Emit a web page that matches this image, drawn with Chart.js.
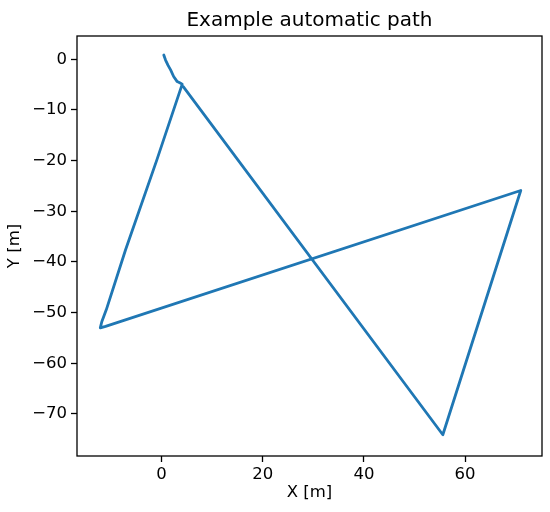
<!DOCTYPE html>
<html>
<head>
<meta charset="utf-8">
<script src="https://cdn.jsdelivr.net/npm/chart.js@4/dist/chart.umd.min.js"></script>
<style>
  html, body { margin: 0; padding: 0; background: #fff; }
  #wrap { width: 550px; height: 512px; }
</style>
</head>
<body>
<div id="wrap"><canvas id="path-chart" width="550" height="512"></canvas></div>
<script>
// --- path (metres) ---
const pathX = [0.45, 0.8, 1.3, 1.8, 2.4, 3.1, 3.7, 4.1,
               -0.9, -7.1, -10.9, -11.8, -12.1, -11.05,
               71.0, 55.6, 4.3];
const pathY = [0.85, -0.15, -1.2, -2.1, -3.4, -4.4, -4.7, -4.9,
               -19.8, -37.6, -49.4, -51.8, -53.0, -52.7,
               -25.9, -74.1, -5.4];

const xTicks = [0, 20, 40, 60];
const yTicks = [0, -10, -20, -30, -40, -50, -60, -70];

const titleText = 'Example automatic path';
const xLabel = 'X [m]';
const yLabel = 'Y [m]';

const FONT = 'DejaVu Sans';

const fmt = v => (v < 0 ? '\u2212' + Math.abs(v) : String(v));

// frame + title drawn over the chart area, matplotlib style
const framePlugin = {
    id: 'frame',
    afterDraw(chart) {
        const { ctx, chartArea: a } = chart;
        ctx.save();
        ctx.strokeStyle = '#000';
        ctx.lineWidth = 1.3;
        ctx.strokeRect(a.left, a.top, a.right - a.left, a.bottom - a.top);
        ctx.fillStyle = '#000';
        ctx.font = '20px "' + FONT + '"';
        ctx.textAlign = 'center';
        ctx.textBaseline = 'alphabetic';
        ctx.fillText(titleText, (a.left + a.right) / 2, a.top - 10);
        ctx.restore();
    }
};

const points = pathX.map((x, i) => ({ x: x, y: pathY[i] }));

new Chart(document.getElementById('path-chart').getContext('2d'), {
    type: 'scatter',
    data: {
        datasets: [{
            data: points,
            showLine: true,
            borderColor: '#1f77b4',
            backgroundColor: '#1f77b4',
            borderWidth: 2.8,
            pointRadius: 0,
            tension: 0,
            borderJoinStyle: 'round',
            borderCapStyle: 'round'
        }]
    },
    options: {
        responsive: false,
        animation: false,
        layout: { padding: { left: 0, right: 8, top: 36, bottom: 0 } },
        plugins: {
            legend: { display: false },
            tooltip: { enabled: false }
        },
        scales: {
            x: {
                type: 'linear',
                min: -16.7,
                max: 75.2,
                afterBuildTicks: s => { s.ticks = xTicks.map(v => ({ value: v })); },
                afterFit: s => { s.height = 56; },
                grid: { drawOnChartArea: false, drawTicks: true, tickLength: 6, color: '#000', tickWidth: 1.3 },
                border: { display: false },
                ticks: { color: '#000', padding: 3, font: { family: FONT, size: 16.5 }, callback: fmt, maxRotation: 0 },
                title: { display: true, text: xLabel, color: '#000', font: { family: FONT, size: 16.5 }, padding: { top: 0, bottom: 9 } }
            },
            y: {
                type: 'linear',
                min: -78.3,
                max: 4.6,
                afterBuildTicks: s => { s.ticks = yTicks.map(v => ({ value: v })); },
                afterFit: s => { s.width = 77; },
                grid: { drawOnChartArea: false, drawTicks: true, tickLength: 6, color: '#000', tickWidth: 1.3 },
                border: { display: false },
                ticks: { color: '#000', padding: 4, font: { family: FONT, size: 16.5 }, callback: fmt },
                title: { display: true, text: yLabel, color: '#000', font: { family: FONT, size: 16.5 }, padding: { top: 5, bottom: 0 } }
            }
        }
    },
    plugins: [framePlugin]
});
</script>
</body>
</html>
